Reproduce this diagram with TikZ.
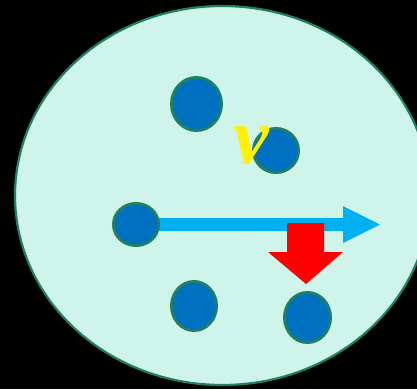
\documentclass[tikz,border=0pt]{standalone}
\usepackage{fontspec}
\setmainfont{Liberation Serif}
\usetikzlibrary{shapes.geometric}
\definecolor{mint}{RGB}{207,244,233}
\definecolor{rim}{RGB}{31,128,100}
\definecolor{dotblue}{RGB}{0,112,192}
\definecolor{arrcyan}{RGB}{0,176,240}
\tikzset{
  dot/.style={ellipse, draw=rim, line width=2.8pt, fill=dotblue, inner sep=0pt},
}
\begin{document}
\begin{tikzpicture}[x=1pt,y=-1pt]
\fill[black] (0,0) rectangle (417,389);
\useasboundingbox (0,0) rectangle (417,389);
% big ellipse
\filldraw[fill=mint, draw=rim, line width=2.2pt] (222.5,195.5) ellipse [x radius=207.5, y radius=189.5];
% cyan arrow
\fill[arrcyan] (156,218) -- (343,218) -- (343,206) -- (380,224.5) -- (343,243) -- (343,231) -- (156,231) -- cycle;
% dots
\node[dot, minimum width=50.2pt, minimum height=53.2pt] (d1) at (196.5,104) {};
\node[dot, minimum width=45.2pt, minimum height=44.2pt] (d2) at (276,150.5) {};
\node[dot, minimum width=45.2pt, minimum height=42.2pt] (d3) at (136,224.5) {};
\node[dot, minimum width=45.2pt, minimum height=49.2pt] (d4) at (194,306) {};
\node[dot, minimum width=46.2pt, minimum height=50.2pt] (d5) at (307.5,317.5) {};
% red arrow
\fill[red] (287,223) -- (324,223) -- (324,252) -- (343,252) -- (306,284) -- (268,252) -- (287,252) -- cycle;
% v label
\node[inner sep=0pt, text=yellow, font=\fontsize{80}{80}\selectfont\bfseries\itshape] (v) at (251,145.5) {v};
\end{tikzpicture}
\end{document}
